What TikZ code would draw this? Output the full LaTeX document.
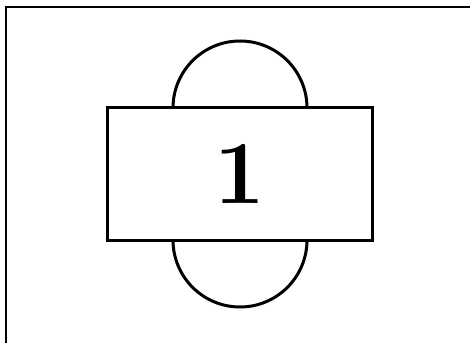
\documentclass[tikz,border=0pt]{standalone}
\begin{document}
\begin{tikzpicture}[x=1pt,y=1pt,
  shapeline/.style={line width=3pt},
  framebox/.style={shapeline,draw,fill=white,minimum width=265pt,minimum height=132.5pt,inner sep=0pt,font=\fontsize{90}{90}\selectfont\bfseries}]
\useasboundingbox (0,0) rectangle (470,342);
\draw[line width=2.2pt] (6,-5) -- (6,335) -- (480,335);
\coordinate (c) at (240,167.75);
\draw[shapeline] ([xshift=-67pt]c |- 0,234) arc[start angle=180,end angle=0,radius=67];
\draw[shapeline] ([xshift=-67pt]c |- 0,102) arc[start angle=180,end angle=360,radius=67];
\node[framebox] (box) at (239.5,167.75) {1};
\end{tikzpicture}
\end{document}
